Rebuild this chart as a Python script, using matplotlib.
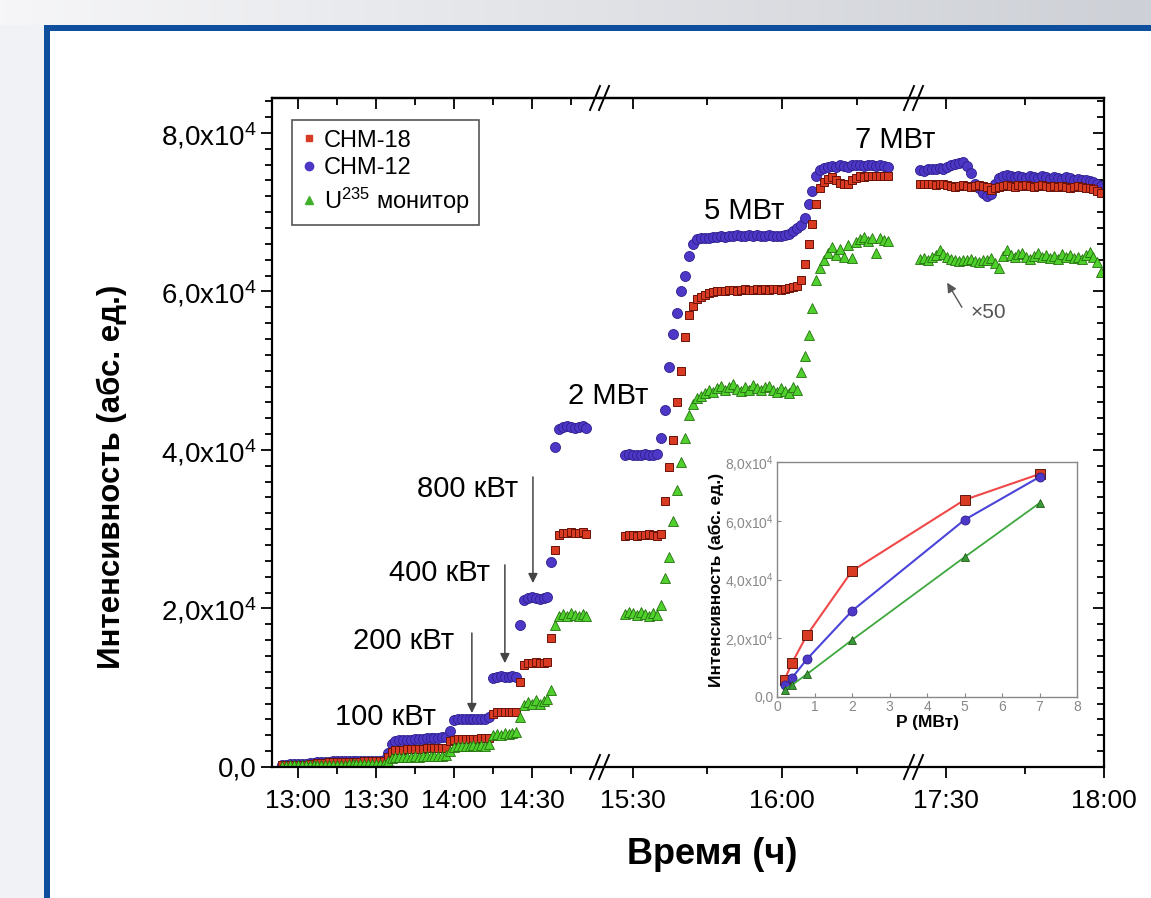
import numpy as np
import matplotlib
matplotlib.use("Agg")
import matplotlib.pyplot as plt
from matplotlib.lines import Line2D
from matplotlib.patches import Rectangle
from matplotlib.colors import LinearSegmentedColormap
from matplotlib.ticker import FuncFormatter, MultipleLocator

plt.rcParams['font.family'] = ['Liberation Sans', 'DejaVu Sans']
plt.rcParams['mathtext.default'] = 'regular'

# ---- data (time in minutes after 12:00) ----
# segment 1: 12:54 .. 14:51
t1 = np.arange(54, 171.1, 1.5)
snm12_1 = [300, 300, 350, 350, 350, 400, 400, 450, 500,
           600, 650, 650, 650, 700, 700, 700, 700, 700, 750, 750, 750, 750, 750, 800, 800, 800, 900,
           1800, 2900, 3300,
           3350, 3400, 3400, 3450, 3500, 3500, 3550, 3600, 3600, 3650, 3700, 3750, 3800,
           4600,
           5900, 6000, 6000, 6050, 6000, 6000, 6050, 6000, 6100, 6300,
           11200, 11400, 11500, 11400, 11400, 11500, 11400,
           17900,
           21100, 21300, 21400, 21300, 21200, 21300, 21400,
           25900, 40400,
           42700, 42900, 43000, 42900, 42800, 42900, 43000, 42800]
snm18_1 = [200, 200, 250, 250, 300, 300, 300, 350, 400,
           500, 550, 550, 600, 600, 600, 600, 650, 650, 650, 650, 650, 700, 700, 700, 700, 700, 750,
           1200, 1900, 2100,
           2200, 2200, 2250, 2250, 2300, 2300, 2300, 2350, 2350, 2400, 2400, 2400, 2450,
           3300,
           3400, 3500, 3500, 3500, 3550, 3500, 3550, 3600, 3600, 3600,
           6700, 6900, 6900, 6950, 6900, 6900, 7000,
           10700,
           12900, 13100, 13100, 13200, 13100, 13100, 13200,
           16300, 27400,
           29300, 29500, 29500, 29600, 29500, 29500, 29600, 29400]
u235_1 = [150, 150, 200, 200, 200, 200, 200, 250, 250,
          250, 250, 300, 300, 300, 300, 300, 300, 350, 350, 350, 350, 350, 350, 400, 400, 400, 400,
          700, 1100, 1200,
          1200, 1300, 1250, 1300, 1350, 1300, 1400, 1350, 1400, 1450, 1400, 1450, 1500,
          2000,
          2500, 2600, 2700, 2600, 2700, 2800, 2700, 2800, 2700, 2900,
          4000, 4200, 4100, 4300, 4200, 4300, 4400,
          6300,
          7800, 8200, 7900, 8400, 8000, 8300, 8600,
          9700, 17900,
          19000, 19300, 19100, 19400, 19200, 19000, 19300, 19100]

# segment 2: 15:28 .. 16:21
t2 = np.arange(208.5, 262, 0.8)
snm12_2 = [39300, 39500, 39400, 39300, 39400, 39500, 39400, 39300, 39500, 41500,
           45000, 50500, 54600, 57300, 60000, 62000, 64500, 66000, 66600,
           66700, 66800, 66800, 66900, 66900, 67000, 66900, 67000, 67000, 67100, 67000, 67000,
           67100, 67000, 67100, 67000, 67000, 67100, 67000, 67000, 67000, 67100, 67300, 67600,
           68000, 68400, 69300, 71000, 72700, 74600, 75300,
           75600, 75700, 75800, 75700, 75900, 75800, 75700, 75900, 76000, 75900, 75800, 76000,
           75900, 75800, 75900, 75800, 75700]
snm18_2 = [29200, 29300, 29300, 29200, 29300, 29300, 29400, 29300, 29200, 29400,
           33500, 37900, 41300, 46000, 50000, 54300, 57000, 58200, 59000,
           59300, 59600, 59800, 59900, 60000, 60100, 60100, 60200, 60200, 60100, 60200, 60300,
           60200, 60200, 60300, 60200, 60300, 60200, 60300, 60300, 60200, 60300, 60400, 60500,
           60700, 61500, 63500, 66000, 68500, 71000, 73000,
           73800, 74200, 74400, 74100, 73700, 73500, 73600, 74000, 74300, 74500, 74400, 74600,
           74500, 74600, 74500, 74600, 74500]
u235_2 = [19300, 19600, 19400, 19200, 19500, 19300, 19100, 19400, 19200, 20500,
          23800, 26500, 31000, 35000, 38500, 41500, 44400, 45800, 46500,
          46800, 47200, 47600, 47300, 47800, 48100, 47500, 47900, 48300, 47700, 47400, 48000,
          47600, 48200, 47800, 47500, 47900, 48100, 47600, 47300, 47800, 47400, 47200, 47900,
          47500, 49800, 51800, 54500, 57900, 61500, 63000,
          64000, 64800, 65600, 64600, 65400, 64400, 65800, 64200, 66200, 66600, 66900, 66300,
          66700, 64900, 66800, 66500, 66300]

# segment 3: 17:25 .. 18:00
t3 = np.arange(325, 360.01, 0.75)
snm12_3 = [75300, 75200, 75400, 75500, 75400, 75600, 75500, 75700, 75900, 76100, 76200,
           76300, 75800, 75000,
           73500, 73000, 72400, 72000, 72300, 73600,
           74300, 74600, 74700, 74500, 74400, 74600, 74400, 74300, 74500, 74400, 74300, 74500,
           74400, 74200, 74400, 74300, 74200, 74400, 74300, 74100, 74200, 74100, 74000, 73900,
           73800, 73600, 73300]
snm18_3 = [73600, 73500, 73600, 73500, 73400, 73500, 73600, 73400, 73300, 73200, 73300, 73400,
           73300, 73200, 73300, 73400, 73300, 73200,
           72800, 73100,
           73200, 73300, 73400, 73300, 73200, 73400, 73300, 73400, 73300, 73200, 73300, 73400,
           73300, 73200, 73300, 73200, 73300, 73200, 73100, 73200, 73300, 73200, 73100, 73000,
           72900, 72700, 72400]
u235_3 = [64100, 64200, 63900, 64300, 64600, 65200, 64700, 64300, 64100, 64000, 63800, 64000,
          63900, 64100, 63800, 63700, 64000, 63900, 64200, 63600, 63000, 64500, 65200, 64600,
          64300, 64700, 64900, 64400, 64100, 64500, 64800, 64300, 64600, 64200, 64500, 64100,
          64700, 64300, 64600, 64200, 64400, 64100, 64600, 65000, 64300, 63700, 62500]

# inset: intensity vs power
p_mw = [0.2, 0.4, 0.8, 2, 5, 7]
red_in = [5800, 11600, 21100, 42900, 67100, 75900]
blue_in = [4100, 6500, 12900, 29300, 60300, 74900]
green_in = [2400, 4100, 7800, 19400, 47600, 66000]

names = ['СНМ-18', 'СНМ-12', 'U$^{235}$ монитор']

RED, RED_E = '#d93a22', '#6a1208'
BLUE, BLUE_E = '#4d37c6', '#2c1f8c'
GREEN, GREEN_E = '#4fd02c', '#24700f'

W, H = 1151, 898


def fx(px):
    return px / W


def fy(py):
    return 1 - py / H


def hhmm(m, pos=None):
    m = int(round(m))
    return f'{12 + m // 60}:{m % 60:02d}'


def sci(v, pos=None):
    if v == 0:
        return '0,0'
    return f'{v / 1e4:.1f}'.replace('.', ',') + 'x10$^4$'


fig = plt.figure(figsize=(W / 100, H / 100), dpi=100)
fig.patch.set_facecolor('#f1f2f5')

# slide frame
bg = fig.add_axes([0, 0, 1, 1], zorder=-5)
strip = LinearSegmentedColormap.from_list('strip', ['#f6f6f8', '#cdd0d6'])
bg.imshow(np.linspace(0, 1, 256)[None, :], cmap=strip, extent=[0, 1, fy(25), 1], aspect='auto')
bg.add_patch(Rectangle((fx(44), 0), 1 - fx(44), fy(25), color='#0d4f9c', lw=0))
bg.add_patch(Rectangle((fx(50), 0), 1 - fx(50), fy(31), color='white', lw=0))
bg.set_xlim(0, 1)
bg.set_ylim(0, 1)
bg.axis('off')

bottom, top = fy(767), fy(98)
edges = [272, 600, 914, 1104]
axes = [fig.add_axes([fx(edges[i]), bottom, fx(edges[i + 1]) - fx(edges[i]), top - bottom])
        for i in range(3)]
ax1, ax2, ax3 = axes

xlims = [(50, 176.2), (203.4, 266.5), (323.9, 360)]
majors = [[60, 90, 120, 150], [210, 240], [330, 360]]
minors = [[75, 105, 135, 165], [225, 255], [345]]
series = [(t1, snm12_1, snm18_1, u235_1), (t2, snm12_2, snm18_2, u235_2), (t3, snm12_3, snm18_3, u235_3)]

for ax, xl, mj, mn, (t, b, r, g) in zip(axes, xlims, majors, minors, series):
    ax.set_facecolor('none')
    ax.plot(t, b, ls='none', marker='o', ms=7.2, mfc=BLUE, mec=BLUE_E, mew=0.6)
    ax.plot(t, r, ls='none', marker='s', ms=5.4, mfc=RED, mec=RED_E, mew=0.7)
    ax.plot(t, g, ls='none', marker='^', ms=6.6, mfc=GREEN, mec=GREEN_E, mew=0.6)
    ax.set_xlim(*xl)
    ax.set_ylim(0, 84400)
    ax.set_xticks(mj)
    ax.set_xticks(mn, minor=True)
    ax.xaxis.set_major_formatter(FuncFormatter(hhmm))
    ax.tick_params(axis='x', which='both', direction='out', width=1.3, labelsize=19, pad=8)
    ax.tick_params(axis='x', which='major', length=8)
    ax.tick_params(axis='x', which='minor', length=5)
    for s in ax.spines.values():
        s.set_linewidth(1.6)
    sec = ax.secondary_xaxis('top')
    sec.set_xticks(mj)
    sec.set_xticks(mn, minor=True)
    sec.tick_params(which='both', direction='in', labeltop=False, width=1.3)
    sec.tick_params(which='major', length=8)
    sec.tick_params(which='minor', length=5)
    sec.spines['top'].set_linewidth(1.6)

ax1.spines['right'].set_visible(False)
ax2.spines['left'].set_visible(False)
ax2.spines['right'].set_visible(False)
ax3.spines['left'].set_visible(False)

for ax in axes:
    ax.set_yticks([0, 20000, 40000, 60000, 80000])
    ax.yaxis.set_minor_locator(MultipleLocator(2000))
ax1.yaxis.set_major_formatter(FuncFormatter(sci))
ax1.tick_params(axis='y', which='both', direction='out', right=False, width=1.3, labelsize=20, pad=3)
ax1.tick_params(axis='y', which='major', length=8)
ax1.tick_params(axis='y', which='minor', length=5)
ax2.tick_params(axis='y', which='both', left=False, right=False, labelleft=False)
ax3.tick_params(axis='y', which='both', left=False, right=True, labelleft=False, labelright=False,
                direction='in', width=1.3)
ax3.tick_params(axis='y', which='major', length=8)
ax3.tick_params(axis='y', which='minor', length=5)

# axis break marks
for xb in (600, 914):
    for yb in (98, 767):
        for dx in (-5, 4):
            fig.add_artist(Line2D([fx(xb + dx - 5), fx(xb + dx + 5)], [fy(yb + 12), fy(yb - 12)],
                                  color='black', lw=1.4))

# labels
fig.text(fx(112), fy(477), 'Интенсивность (абс. ед.)', rotation=90, ha='center', va='center',
         fontsize=22.5, fontweight='bold')
fig.text(fx(712), fy(855), 'Время (ч)', ha='center', va='center', fontsize=26, fontweight='bold')

handles = [Line2D([], [], ls='none', marker='s', ms=5, mfc=RED, mec=RED),
           Line2D([], [], ls='none', marker='o', ms=6, mfc=BLUE, mec=BLUE),
           Line2D([], [], ls='none', marker='^', ms=6, mfc='#3fb02a', mec='#3fb02a')]
leg = ax1.legend(handles, names, loc='upper left', bbox_to_anchor=(0.061, 0.967), borderaxespad=0,
                 fontsize=17, fancybox=False, edgecolor='#555555', framealpha=1, handlelength=0.6,
                 handletextpad=0.35, labelspacing=0.25, borderpad=0.4)
leg.get_frame().set_linewidth(1.2)

# power annotations
arrow = dict(arrowstyle='-|>', color='#444444', lw=1.1, mutation_scale=14, shrinkA=0, shrinkB=0)
ax1.annotate('', xy=(126.9, 6800), xytext=(126.9, 16900), arrowprops=arrow)
ax1.annotate('', xy=(139.6, 13100), xytext=(139.6, 25500), arrowprops=arrow)
ax1.annotate('', xy=(150.4, 23200), xytext=(150.4, 36600), arrowprops=arrow)
ax1.text(93.5, 6300, '100 кВт', ha='center', va='center', fontsize=21)
ax1.text(100.8, 15900, '200 кВт', ha='center', va='center', fontsize=21)
ax1.text(114.6, 24500, '400 кВт', ha='center', va='center', fontsize=21)
ax1.text(125.4, 35100, '800 кВт', ha='center', va='center', fontsize=21)
ax2.text(205, 46800, '2 МВт', ha='center', va='center', fontsize=21)
ax2.text(232.3, 70200, '5 МВт', ha='center', va='center', fontsize=21)
ax2.text(262.7, 79100, '7 МВт', ha='center', va='center', fontsize=21, zorder=10)
ax3.annotate('', xy=(330.2, 61100), xytext=(333.0, 58000),
             arrowprops=dict(arrowstyle='-|>', color='#555555', lw=1.0, mutation_scale=14,
                             shrinkA=0, shrinkB=0))
ax3.text(338.0, 57400, '×50', ha='center', va='center', fontsize=15, color='#555555')

# inset
axi = fig.add_axes([fx(777), fy(697), fx(1077) - fx(777), fy(462) - fy(697)])
axi.plot(p_mw, red_in, color='#f04848', lw=1.5, marker='s', ms=6.5, mfc=RED, mec='#5a1a10', mew=0.7)
axi.plot(p_mw, blue_in, color='#4a44d8', lw=1.5, marker='o', ms=6.5, mfc=BLUE, mec=BLUE_E, mew=0.6)
axi.plot(p_mw, green_in, color='#3ea83e', lw=1.3, marker='^', ms=6, mfc='#3a9a3a', mec='#1f5a12',
         mew=0.6)
axi.set_xlim(0, 8)
axi.set_ylim(0, 80000)
axi.set_xticks(range(9))
axi.set_yticks([0, 20000, 40000, 60000, 80000])
axi.yaxis.set_major_formatter(FuncFormatter(sci))
axi.tick_params(which='both', direction='in', length=3, colors='#888888', labelsize=10, pad=2)
for s in axi.spines.values():
    s.set_color('#888888')
    s.set_linewidth(1.0)
axi.set_xlabel('P (МВт)', fontsize=12.5, fontweight='bold', labelpad=1)
axi.set_ylabel('Интенсивность (абс. ед.)', fontsize=12.5, fontweight='bold', labelpad=1)

fig.savefig('out.png', dpi=100)
